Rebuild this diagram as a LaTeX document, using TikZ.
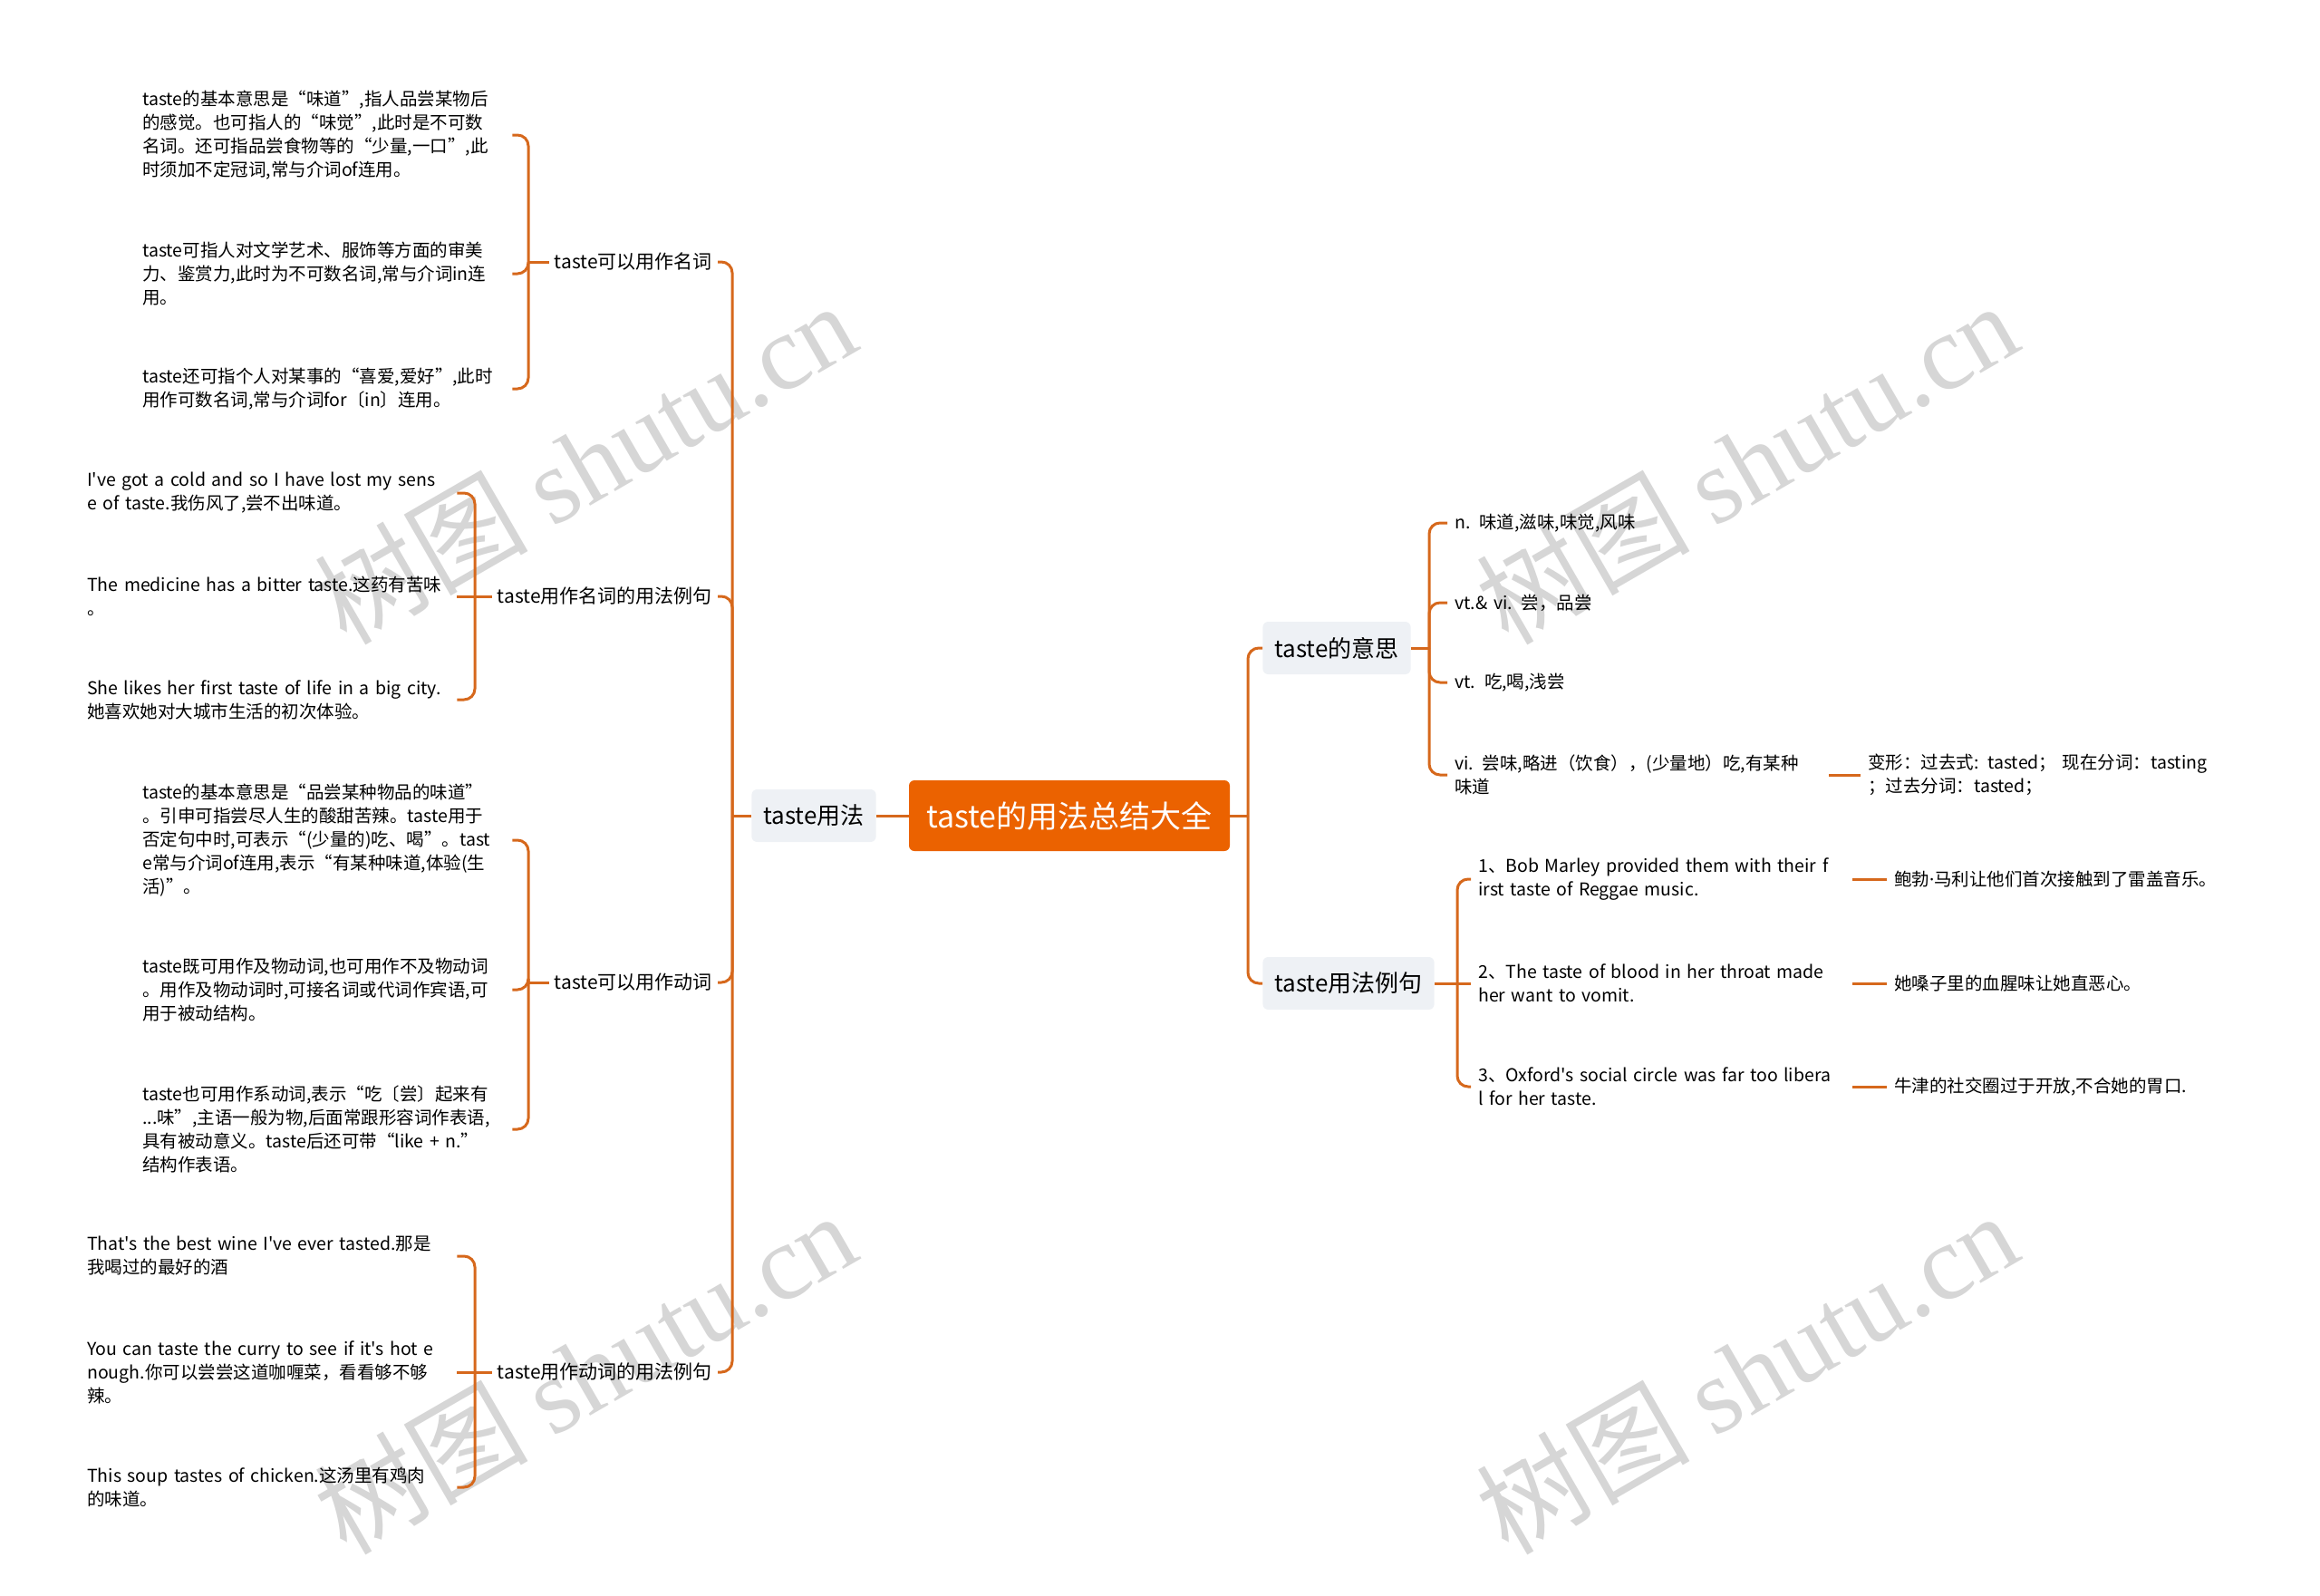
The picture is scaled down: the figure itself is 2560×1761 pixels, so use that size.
\documentclass[tikz,border=0pt]{standalone}
\usepackage{fontspec}
\setmainfont{Noto Sans CJK SC}[Ligatures=TeXOff]
\newfontfamily\wmlat{Liberation Serif}
\newfontfamily\latf{Noto Sans}
\definecolor{brn}{RGB}{214,104,28}
\definecolor{rootor}{RGB}{235,98,0}
\definecolor{tpfill}{RGB}{238,241,245}
\definecolor{wmgray}{RGB}{214,214,214}

\begin{document}
\begin{tikzpicture}[x=1pt,y=-1pt,
  rootbox/.style={fill=rootor,text=white,rounded corners=6pt,minimum width=354pt,minimum height=78pt,font=\fontsize{34}{40}\selectfont},
  tbox/.style={fill=tpfill,rounded corners=6pt,minimum height=58pt,inner xsep=13pt,font=\fontsize{26}{30}\selectfont},
  sbt/.style={inner sep=6pt,font=\fontsize{21}{26}\selectfont},
  lft/.style={text width=400pt,align=left,inner xsep=8pt,inner ysep=4pt,font=\fontsize{19.5}{26}\selectfont},
  lnk/.style={brn,line width=3pt,rounded corners=12pt},
  wmk/.style={wmgray,rotate=30,font=\fontsize{118}{118}\selectfont}]
\useasboundingbox (0,0) rectangle (2560,1761);
\node[wmk] (w1) at (645,510) {树图 {\wmlat shutu.cn}};
\node[wmk] (w2) at (1927,510) {树图 {\wmlat shutu.cn}};
\node[wmk] (w3) at (645,1514) {树图 {\wmlat shutu.cn}};
\node[wmk] (w4) at (1927,1514) {树图 {\wmlat shutu.cn}};
\node[rootbox] (root) at (1180,900) {taste的用法总结大全};
\node[tbox] (use) at (898,900) {taste用法};
\node[tbox] (mean) at (1475,715) {taste的意思};
\node[tbox] (exmp) at (1488,1085) {taste用法例句};
\node[sbt,anchor=east] (nA) at (792,289) {taste可以用作名词};
\node[sbt,anchor=east] (nB) at (792,658) {taste用作名词的用法例句};
\node[sbt,anchor=east] (vA) at (792,1084) {taste可以用作动词};
\node[sbt,anchor=east] (vB) at (792,1514) {taste用作动词的用法例句};
\node[lft,anchor=west] (a1) at (149,149) {taste的基本意思是“味道”,指人品尝某物后\\的感觉。也可指人的“味觉”,此时是不可数\\名词。还可指品尝食物等的“少量,一口”,此\\时须加不定冠词,常与介词of连用。};
\node[lft,anchor=west] (a2) at (149,302) {taste可指人对文学艺术、服饰等方面的审美\\力、鉴赏力,此时为不可数名词,常与介词in连\\用。};
\node[lft,anchor=west] (a3) at (149,429) {taste还可指个人对某事的“喜爱,爱好”,此时\\用作可数名词,常与介词for〔in〕连用。};
\node[lft,anchor=west] (b1) at (88,544) {I've got a cold and so I have lost my sens\\e of taste.我伤风了,尝不出味道。};
\node[lft,anchor=west] (b2) at (88,658) {The medicine has a bitter taste.这药有苦味\\。};
\node[lft,anchor=west] (b3) at (88,772) {She likes her first taste of life in a big city.\\她喜欢她对大城市生活的初次体验。};
\node[lft,anchor=west] (c1) at (149,927) {taste的基本意思是“品尝某种物品的味道”\\。引申可指尝尽人生的酸甜苦辣。taste用于\\否定句中时,可表示“(少量的)吃、喝”。tast\\e常与介词of连用,表示“有某种味道,体验(生\\活)”。};
\node[lft,anchor=west] (c2) at (149,1092) {taste既可用作及物动词,也可用作不及物动词\\。用作及物动词时,可接名词或代词作宾语,可\\用于被动结构。};
\node[lft,anchor=west] (c3) at (149,1246) {taste也可用作系动词,表示“吃〔尝〕起来有\\...味”,主语一般为物,后面常跟形容词作表语,\\具有被动意义。taste后还可带“like + n.”\\结构作表语。};
\node[lft,anchor=west] (d1) at (88,1386) {That's the best wine I've ever tasted.那是\\我喝过的最好的酒};
\node[lft,anchor=west] (d2) at (88,1514) {You can taste the curry to see if it's hot e\\nough.你可以尝尝这道咖喱菜，看看够不够\\辣。};
\node[lft,anchor=west] (d3) at (88,1641) {This soup tastes of chicken.这汤里有鸡肉\\的味道。};
\node[lft,anchor=west,text width=405pt] (m1) at (1597,577) {n. 味道,滋味,味觉,风味};
\node[lft,anchor=west,text width=405pt] (m2) at (1597,665) {vt.\& vi. 尝，品尝};
\node[lft,anchor=west,text width=405pt] (m3) at (1597,753) {vt. 吃,喝,浅尝};
\node[lft,anchor=west,text width=405pt] (m4) at (1597,855) {vi. 尝味,略进（饮食），(少量地）吃,有某种\\味道};
\node[lft,anchor=west,text width=420pt] (m5) at (2053,855) {变形：过去式: tasted； 现在分词：tasting\\；过去分词：tasted；};
\node[lft,anchor=west,text width=405pt] (e1) at (1623,970) {1、Bob Marley provided them with their f\\irst taste of Reggae music.};
\node[lft,anchor=west,text width=405pt] (e2) at (1623,1085) {2、The taste of blood in her throat made\\her want to vomit.};
\node[lft,anchor=west,text width=405pt] (e3) at (1623,1199) {3、Oxford's social circle was far too libera\\l for her taste.};
\node[lft,anchor=west] (t1) at (2082,970) {鲍勃{\latf ·}马利让他们首次接触到了雷盖音乐。};
\node[lft,anchor=west] (t2) at (2082,1085) {她嗓子里的血腥味让她直恶心。};
\node[lft,anchor=west] (t3) at (2082,1199) {牛津的社交圈过于开放,不合她的胃口.};
\coordinate (bU) at (808,900);
\coordinate (bR) at (1377,900);
\coordinate (bM) at (1577,715);
\coordinate (bE) at (1608,1085);
\coordinate (bA) at (583,289);
\coordinate (bB) at (524,658);
\coordinate (bC) at (583,1084);
\coordinate (bD) at (524,1514);
\draw[lnk] (use.east) -- (root.west);
\draw[lnk] (root.east) -- (bR);
\draw[lnk] (bR) |- (mean.west);
\draw[lnk] (bR) |- (exmp.west);
\draw[lnk] (use.west) -- (bU);
\foreach \c in {nA,nB,vA,vB} \draw[lnk] (bU) |- (\c.east);
\draw[lnk] (nA.west) -- (bA);
\foreach \c in {a1,a2,a3} \draw[lnk] (bA) |- (\c.east);
\draw[lnk] (nB.west) -- (b2.east);
\foreach \c in {b1,b3} \draw[lnk] (bB) |- (\c.east);
\draw[lnk] (vA.west) -- (bC);
\foreach \c in {c1,c2,c3} \draw[lnk] (bC) |- (\c.east);
\draw[lnk] (vB.west) -- (d2.east);
\foreach \c in {d1,d3} \draw[lnk] (bD) |- (\c.east);
\draw[lnk] (mean.east) -- (bM);
\foreach \c in {m1,m2,m3,m4} \draw[lnk] (bM) |- (\c.west);
\draw[lnk] (m4.east) -- (m5.west);
\draw[lnk] (exmp.east) -- (e2.west);
\foreach \c in {e1,e3} \draw[lnk] (bE) |- (\c.west);
\foreach \i in {1,2,3} \draw[lnk] (e\i.east) -- (t\i.west);
\end{tikzpicture}
\end{document}
